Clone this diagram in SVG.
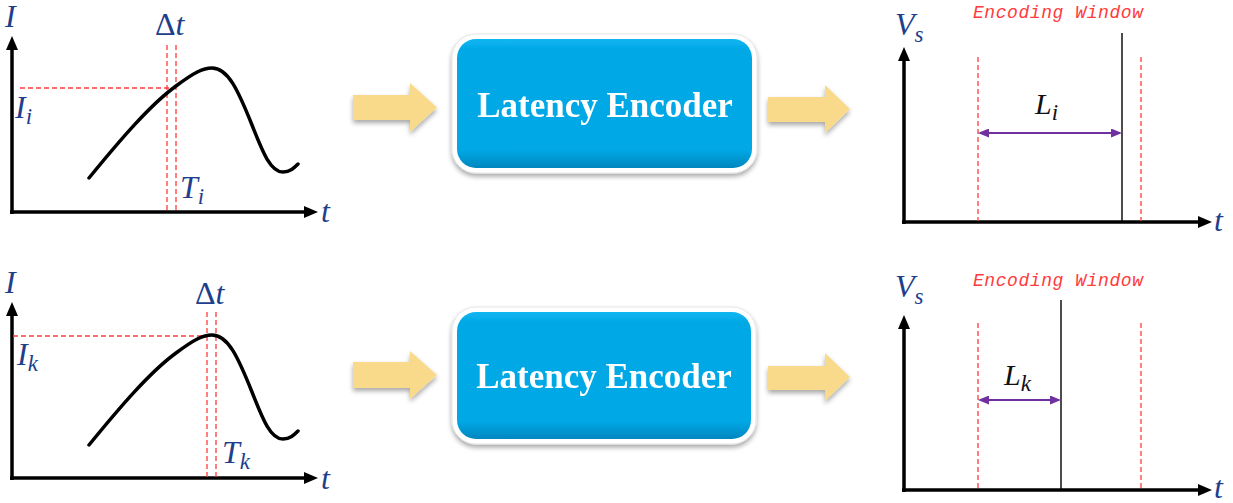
<svg xmlns="http://www.w3.org/2000/svg" width="1233" height="503" viewBox="0 0 1233 503">
  <style>
    .axis { stroke: #000; stroke-width: 3.5; fill: none; }
    .curve { stroke: #000; stroke-width: 3.5; fill: none; stroke-linecap: round; }
    .guide { stroke: #FF3B3B; stroke-width: 1.3; stroke-dasharray: 5 3; fill: none; }
    .spike { stroke: #000; stroke-width: 1.4; }
    .span { stroke: #7030A0; stroke-width: 2; }
    .math { font-family: "Liberation Serif", "DejaVu Serif", serif; font-style: italic; fill: #1F3F8C; font-size: 32px; }
    .math .sub { font-size: 23px; }
    .up { font-style: normal; }
    .dark { fill: #111; }
    .win { font-family: "Liberation Mono", "DejaVu Sans Mono", monospace; font-style: italic; font-size: 18px; fill: #FF3B3B; }
    .label { font-family: "Liberation Serif", "Times New Roman", serif; font-weight: bold; font-size: 35px; fill: #fff; }
    .flow { fill: #F9DA8A; }
  </style>
  <defs>
    <marker id="axisHead" viewBox="0 0 14 12" markerUnits="userSpaceOnUse" markerWidth="14" markerHeight="12" refX="2" refY="6" orient="auto">
      <path d="M0,0 L14,6 L0,12 z" fill="#000"/>
    </marker>
    <marker id="spanHead" viewBox="0 0 11 9" markerUnits="userSpaceOnUse" markerWidth="11" markerHeight="9" refX="9" refY="4.5" orient="auto-start-reverse">
      <path d="M0,0 L11,4.5 L0,9 z" fill="#7030A0"/>
    </marker>
    <linearGradient id="boxFill" x1="0" y1="0" x2="0" y2="1">
      <stop offset="0" stop-color="#12B6F2"/>
      <stop offset="0.08" stop-color="#00A9E6"/>
      <stop offset="0.86" stop-color="#00A8E5"/>
      <stop offset="1" stop-color="#0086BF"/>
    </linearGradient>
    <filter id="softShadow" x="-10%" y="-10%" width="120%" height="130%">
      <feGaussianBlur in="SourceAlpha" stdDeviation="2.5"/>
      <feOffset dx="0" dy="3" result="blur"/>
      <feComponentTransfer><feFuncA type="linear" slope="0.35"/></feComponentTransfer>
      <feMerge><feMergeNode/><feMergeNode in="SourceGraphic"/></feMerge>
    </filter>
  </defs>

  <!-- input current plot, neuron i -->
  <g id="input-i">
    <line class="axis" x1="12" y1="214" x2="12" y2="48" marker-end="url(#axisHead)"/>
    <line class="axis" x1="10" y1="212" x2="306" y2="212" marker-end="url(#axisHead)"/>
    <line class="guide" x1="20" y1="88" x2="176" y2="88"/>
    <line class="guide" x1="167" y1="45" x2="167" y2="211"/>
    <line class="guide" x1="176" y1="45" x2="176" y2="211"/>
    <path class="curve" d="M89,178 C120,140 150,105 176,86 C195,72 203,68 212,68 C228,68 238,90 252,125 C262,150 270,172 283,172 C290,172 294,168 298,164"/>
    <text class="math" x="5" y="27">I</text>
    <text class="math" x="155" y="35"><tspan class="up">Δ</tspan>t</text>
    <text class="math" x="15" y="118">I<tspan class="sub" dy="6">i</tspan></text>
    <text class="math" x="180" y="198">T<tspan class="sub" dy="6">i</tspan></text>
    <text class="math" x="321" y="222">t</text>
  </g>

  <!-- input current plot, neuron k -->
  <g id="input-k">
    <line class="axis" x1="12" y1="480" x2="12" y2="314" marker-end="url(#axisHead)"/>
    <line class="axis" x1="10" y1="478" x2="306" y2="478" marker-end="url(#axisHead)"/>
    <line class="guide" x1="13" y1="336" x2="216" y2="336"/>
    <line class="guide" x1="207" y1="312" x2="207" y2="477"/>
    <line class="guide" x1="216" y1="312" x2="216" y2="477"/>
    <path class="curve" transform="translate(0,267)" d="M89,178 C120,140 150,105 176,86 C195,72 203,68 212,68 C228,68 238,90 252,125 C262,150 270,172 283,172 C290,172 294,168 298,164"/>
    <text class="math" x="5" y="293">I</text>
    <text class="math" x="195" y="304"><tspan class="up">Δ</tspan>t</text>
    <text class="math" x="17" y="365">I<tspan class="sub" dy="6">k</tspan></text>
    <text class="math" x="222" y="463">T<tspan class="sub" dy="6">k</tspan></text>
    <text class="math" x="321" y="489">t</text>
  </g>

  <!-- encoder blocks -->
  <g id="encoder-i" filter="url(#softShadow)">
    <rect x="452" y="34" width="305" height="139" rx="24" fill="#fff" stroke="#e6e6e6" stroke-width="1"/>
    <rect x="457" y="39" width="295" height="129" rx="19" fill="url(#boxFill)"/>
    <text class="label" x="605" y="117" text-anchor="middle">Latency Encoder</text>
  </g>
  <g id="encoder-k" filter="url(#softShadow)">
    <rect x="452" y="307" width="304" height="137" rx="24" fill="#fff" stroke="#e6e6e6" stroke-width="1"/>
    <rect x="457" y="312" width="294" height="127" rx="19" fill="url(#boxFill)"/>
    <text class="label" x="604" y="388" text-anchor="middle">Latency Encoder</text>
  </g>

  <!-- spike output plot, neuron i -->
  <g id="output-i">
    <line class="axis" x1="904" y1="224" x2="904" y2="59" marker-end="url(#axisHead)"/>
    <line class="axis" x1="902" y1="222" x2="1200" y2="222" marker-end="url(#axisHead)"/>
    <line class="guide" x1="978" y1="57" x2="978" y2="221"/>
    <line class="guide" x1="1141" y1="57" x2="1141" y2="221"/>
    <line class="spike" x1="1122" y1="33" x2="1122" y2="221"/>
    <text class="win" x="973" y="18" textLength="170" lengthAdjust="spacing">Encoding Window</text>
    <text class="math" x="895" y="35">V<tspan class="sub" dy="7">s</tspan></text>
    <text class="math dark" x="1035" y="114" style="font-size:30px">L<tspan class="sub" dy="6">i</tspan></text>
    <text class="math" x="1214" y="231">t</text>
  </g>

  <!-- spike output plot, neuron k -->
  <g id="output-k">
    <line class="axis" x1="904" y1="492" x2="904" y2="327" marker-end="url(#axisHead)"/>
    <line class="axis" x1="902" y1="490" x2="1200" y2="490" marker-end="url(#axisHead)"/>
    <line class="guide" x1="978" y1="323" x2="978" y2="489"/>
    <line class="guide" x1="1141" y1="323" x2="1141" y2="489"/>
    <line class="spike" x1="1061" y1="300" x2="1061" y2="489"/>
    <text class="win" x="973" y="286" textLength="170" lengthAdjust="spacing">Encoding Window</text>
    <text class="math" x="895" y="297">V<tspan class="sub" dy="7">s</tspan></text>
    <text class="math dark" x="1004" y="385" style="font-size:30px">L<tspan class="sub" dy="6">k</tspan></text>
    <text class="math" x="1214" y="498">t</text>
  </g>

  <!-- connectors: flow arrows and latency spans -->
  <g id="connectors">
    <g filter="url(#softShadow)">
      <polygon class="flow" points="353,95 410,95 410,83 437,107.5 410,132 410,120 353,120"/>
      <polygon class="flow" points="768,97 825,97 825,85 850,109 825,133 825,122 768,122"/>
      <polygon class="flow" points="353,362 410,362 410,351 437,375 410,399 410,388 353,388"/>
      <polygon class="flow" points="768,366 825,366 825,353 850,377 825,401 825,390 768,390"/>
    </g>
    <line class="span" x1="980" y1="133" x2="1120" y2="133" marker-start="url(#spanHead)" marker-end="url(#spanHead)"/>
    <line class="span" x1="980" y1="400" x2="1059" y2="400" marker-start="url(#spanHead)" marker-end="url(#spanHead)"/>
  </g>
</svg>
